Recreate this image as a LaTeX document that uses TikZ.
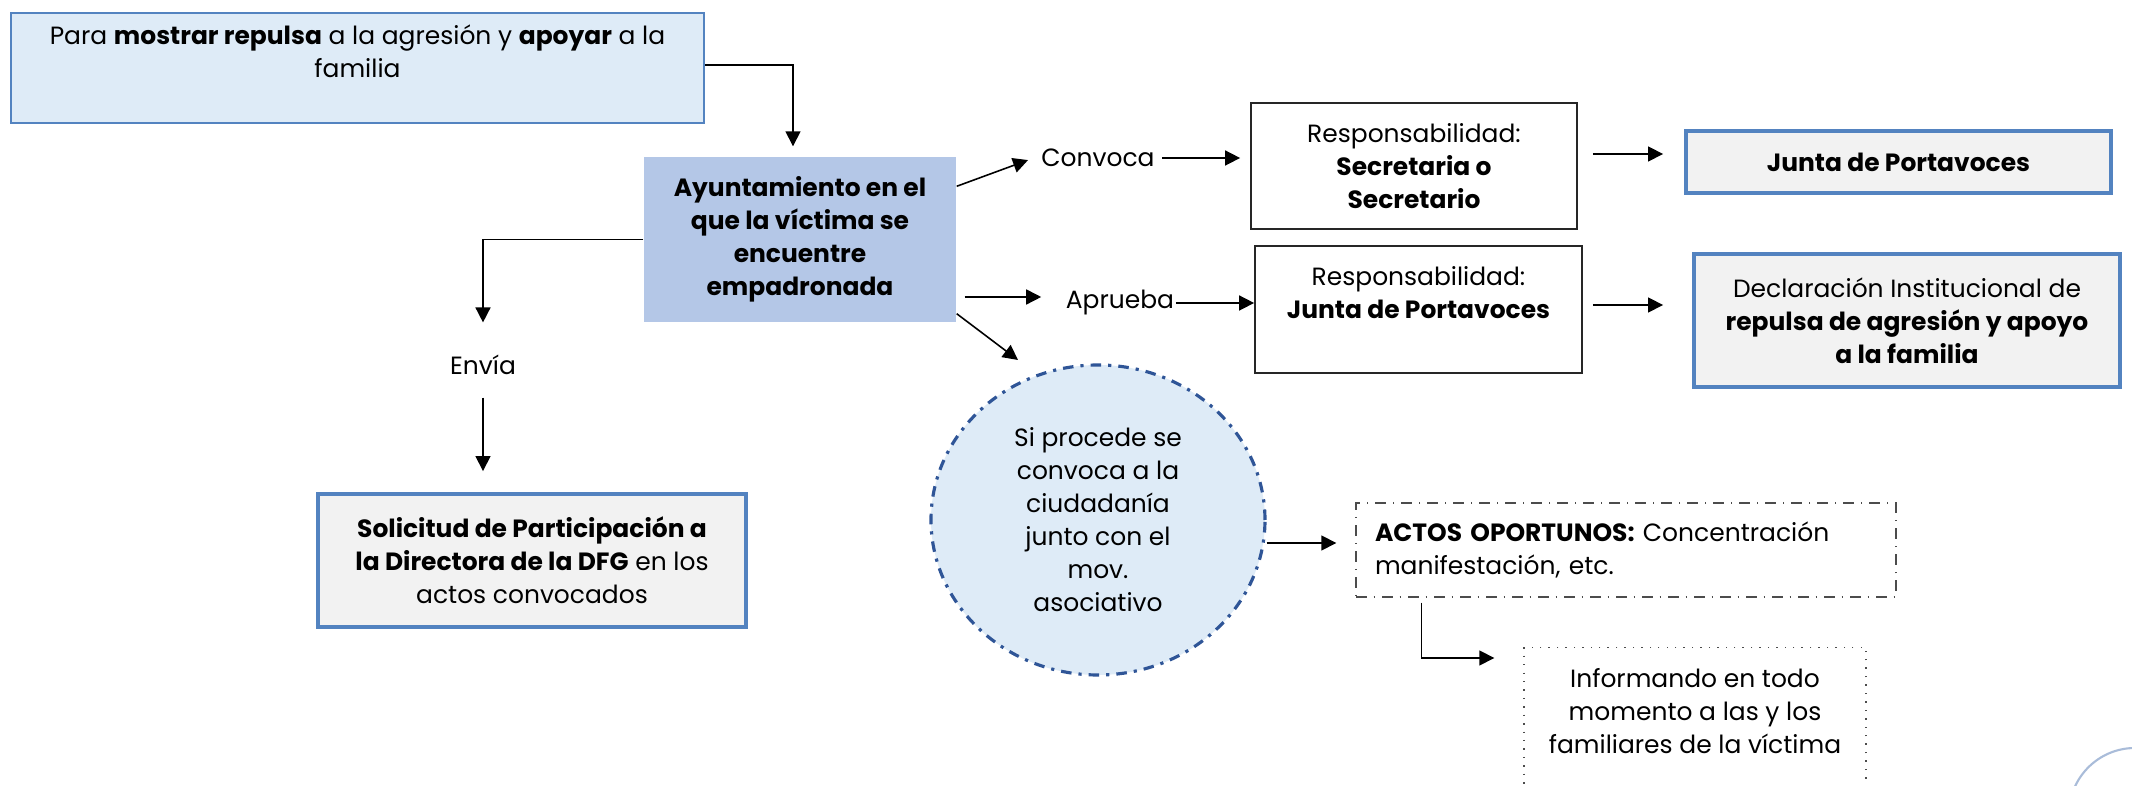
\documentclass[tikz,border=0pt]{standalone}
\usepackage{fontspec}
\setmainfont{Poppins}
\usepackage{xcolor}
\usetikzlibrary{positioning,arrows.meta,shapes.geometric,calc}

\definecolor{paleblue}{HTML}{DEEBF7}
\definecolor{midblue}{HTML}{B4C7E7}
\definecolor{boxgray}{HTML}{F2F2F2}
\definecolor{edgeblue}{HTML}{5383C0}
\definecolor{darkblue}{HTML}{2F5597}
\definecolor{ringblue}{HTML}{A9BCD9}

\begin{document}
\begin{tikzpicture}[
    >={Triangle[length=1.5mm,width=1.5mm]},
    font=\fontsize{7.1}{9.4}\selectfont,
    conn/.style={->, line width=0.45pt},
    topbox/.style={rectangle, draw=edgeblue, line width=0.6pt, fill=paleblue, align=center},
    citybox/.style={rectangle, fill=midblue, align=center, font=\fontsize{7.1}{9.4}\selectfont\bfseries},
    resbox/.style={rectangle, draw=black!85, line width=0.5pt, fill=white, align=center},
    outbox/.style={rectangle, draw=edgeblue, line width=1.1pt, fill=boxgray, align=center},
    verb/.style={inner sep=0.07cm},
    actbox/.style={rectangle, draw=black!70, line width=0.4pt, dash dot, align=left},
    notebox/.style={rectangle, draw=black!70, line width=0.4pt, dotted, align=center}
]
\useasboundingbox (0,0) rectangle (21.32,-7.86);
\clip (0,0) rectangle (21.32,-7.86);

% === Origen ===
\node[topbox, minimum width=6.93cm, minimum height=1.08cm] (para) at (3.575,-0.68)
    {Para \textbf{mostrar repulsa} a la agresión y \textbf{apoyar} a la\\ familia\\ \mbox{}};

\node[citybox, minimum width=3.12cm, minimum height=1.65cm] (ayto) at (8.00,-2.395)
    {Ayuntamiento en el\\ que la víctima se\\ encuentre\\ empadronada};

\draw[conn, shorten >=1mm] ($(para.east)+(0,0.03)$) -| ($(ayto.north)+(-0.07,0)$);

% === Envía ===
\node[verb] (envia) at (4.83,-3.65) {Envía};
\node[outbox, minimum width=4.28cm, minimum height=1.33cm] (solic) at (5.32,-5.605)
    {\textbf{Solicitud de Participación a}\\ \textbf{la Directora de la DFG} en los\\ actos convocados};

\draw[conn, shorten >=2.5mm] (ayto.west) -| (envia.north);
\draw[conn, shorten <=1.5mm, shorten >=2.1mm] (envia.south) -- (envia.south |- solic.north);

% === Convoca ===
\node[verb] (convoca) at (10.98,-1.58) {Convoca};
\node[resbox, minimum width=3.26cm, minimum height=1.26cm] (resp1) at (14.14,-1.66)
    {Responsabilidad:\\ \textbf{Secretaria o}\\ \textbf{Secretario}};
\node[outbox, minimum width=4.25cm, minimum height=0.62cm] (junta) at (18.985,-1.62)
    {\textbf{Junta de Portavoces}};

\draw[conn, shorten >=0.6mm] ($(ayto.north east)+(0,-0.30)$) -- (convoca.west);
\draw[conn, shorten >=1mm] (convoca.east) -- (convoca.east -| resp1.west);
\draw[conn, shorten <=1.5mm, shorten >=2.1mm] ($(resp1.east)+(0,0.12)$) -- ($(junta.west |- resp1.east)+(0,0.12)$);

% === Aprueba ===
\node[verb] (aprueba) at (11.20,-3.03) {Aprueba};
\node[resbox, minimum width=3.27cm, minimum height=1.27cm] (resp2) at (14.185,-3.095)
    {Responsabilidad:\\ \textbf{Junta de Portavoces}\\ \mbox{}};
\node[outbox, minimum width=4.26cm, minimum height=1.33cm] (decl) at (19.07,-3.205)
    {Declaración Institucional de\\ \textbf{repulsa de agresión y apoyo}\\ \textbf{a la familia}};

\draw[conn, shorten <=0.8mm, shorten >=1.7mm] ($(ayto.east |- aprueba.west)+(0,0.06)$) -- ($(aprueba.west)+(0,0.06)$);
\draw[conn, shorten <=-0.6mm] (aprueba.east) -- (aprueba.east -| resp2.west);
\draw[conn, shorten <=1mm, shorten >=2.9mm] ($(resp2.east)+(0,0.045)$) -- ($(decl.west |- resp2.east)+(0,0.045)$);

% === Ciudadanía ===
\node[ellipse, draw=darkblue, line width=0.9pt, dash dot, fill=paleblue, align=center,
      minimum width=3.34cm, minimum height=3.10cm, inner sep=0pt] (circ) at (10.98,-5.20)
    {Si procede se\\ convoca a la\\ ciudadanía\\ junto con el\\ mov.\\ asociativo};
\coordinate (circtip) at (10.18,-3.60);
\draw[conn] ($(ayto.south east)+(0,0.09)$) -- (circtip);

\node[actbox, minimum width=5.40cm, minimum height=0.94cm, text width=5.02cm] (actos) at (16.26,-5.50)
    {\textbf{ACTOS OPORTUNOS:} Concentración\\ manifestación, etc.};
\node[notebox, minimum width=3.42cm, minimum height=1.6cm, anchor=north] (informa) at (16.95,-6.47)
    {Informando en todo\\ momento a las y los\\ familiares de la víctima\\ \mbox{}};

\draw[conn, shorten >=1.9mm] ($(circ.east)+(0,-0.23)$) -- ($(actos.west |- circ.east)+(0,-0.23)$);
\draw[conn, shorten >=2.9mm] ($(actos.south west)+(0.66,-0.05)$) |- ($(informa.north west)+(0,-0.11)$);

% corner ring
\draw[ringblue, line width=0.6pt] (21.35,-8.14) circle (0.66);
\end{tikzpicture}
\end{document}
